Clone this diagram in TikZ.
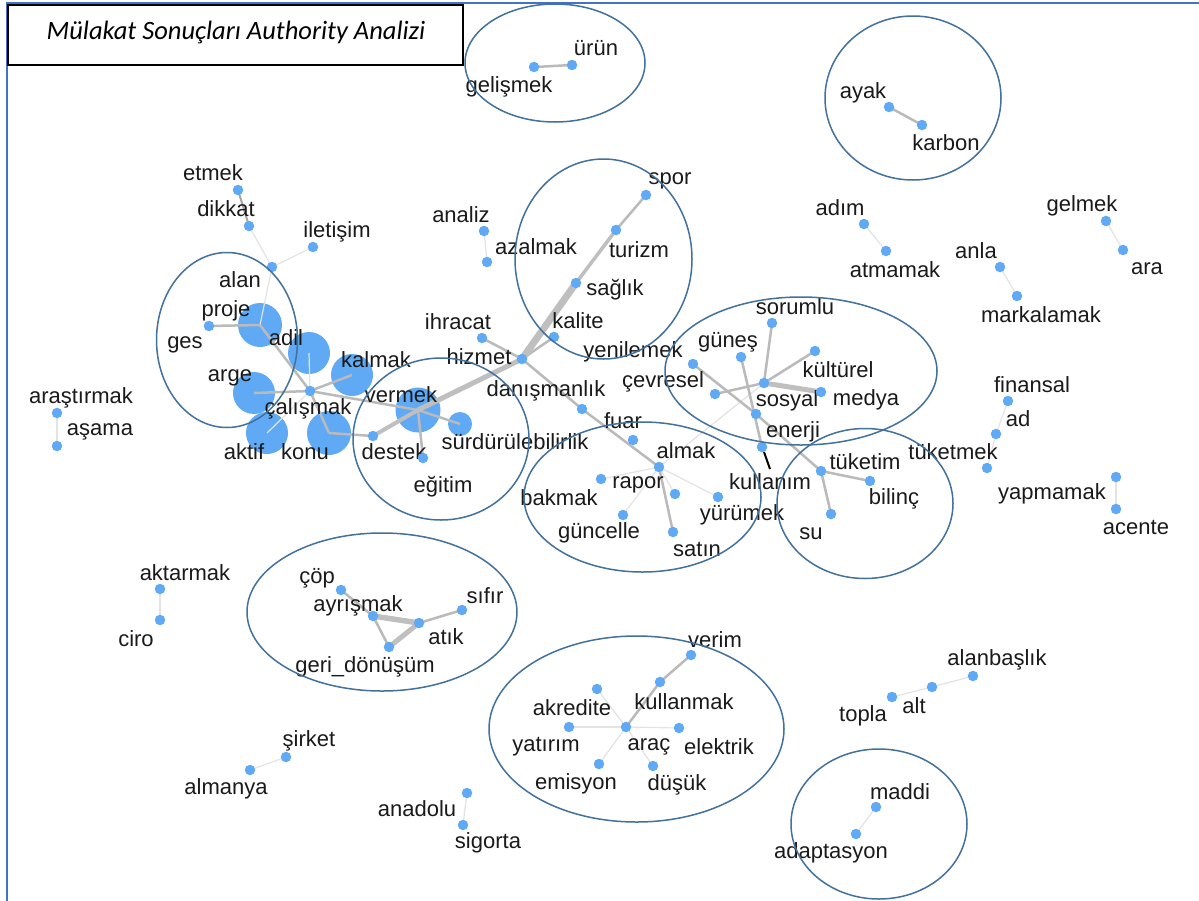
\documentclass[tikz,border=0pt]{standalone}
\usepackage{fontspec}
\setmainfont{Liberation Sans}
\newfontfamily\titlefont{Carlito}
\definecolor{dotblue}{RGB}{96,170,245}
\definecolor{ellcol}{RGB}{65,113,156}
\definecolor{framecol}{RGB}{68,114,196}
\definecolor{labcol}{RGB}{26,26,26}
\pgfdeclarelayer{bgl}
\pgfdeclarelayer{bigl}
\pgfdeclarelayer{edgel}
\pgfsetlayers{bgl,bigl,edgel,main}
\newcommand\kw[4]{\node[dot] (#1) at (#2) {}; \node[lab] (#1l) at (#3) {#4};}
\begin{document}
\begin{tikzpicture}[x=1pt,y=-1pt,
  dot/.style={circle,fill=dotblue,inner sep=0pt,minimum size=10.5pt},
  big/.style={circle,fill=dotblue,inner sep=0pt,minimum size=#1},
  lab/.style={inner sep=0pt,text=labcol,font=\fontsize{22}{26}\selectfont},
  ell/.style={draw=ellcol,line width=1.5pt},
  faint/.style={draw=black!11,line width=1.2pt},
  med/.style={draw=black!27,line width=2.5pt},
  heavy/.style={draw=black!25,line width=#1}]
\useasboundingbox (0,0) rectangle (1199,900);
\begin{pgfonlayer}{bgl}
\fill[white] (0,0) rectangle (1199,900);
\end{pgfonlayer}
\draw[draw=framecol,line width=2pt] (7,905) -- (7,3) -- (1205,3);

% big circles
\begin{pgfonlayer}{bigl}
\node[big=44pt] (proje) at (260,325) {};
\node[big=42pt] (adil) at (309,353) {};
\node[big=42pt] (kalmak) at (352,375) {};
\node[big=42pt] (arge) at (254,393) {};
\node[big=42pt] (aktif) at (267,433) {};
\node[big=44pt] (konu) at (329,433) {};
\node[big=45pt] (vermek) at (418,410) {};
\node[big=24pt] (surdur) at (460,424) {};
\end{pgfonlayer}
\node[lab] (projel) at (226,311) {proje};
\node[lab] (adill) at (286,338) {adil};
\node[lab] (kalmakl) at (376,360) {kalmak};
\node[lab] (argel) at (230,378) {arge};
\node[lab] (aktifl) at (244,452) {aktif};
\node[lab] (konul) at (305,452) {konu};
\node[lab] (vermekl) at (401,395) {vermek};
\node[lab] (surdurl) at (515,442) {sürdürülebilirlik};

% small nodes
\kw{gelismek}{534,67}{509,87}{gelişmek}
\kw{urun}{572,65}{596,48}{ürün}
\kw{ayak}{889,107}{863,93}{ayak}
\kw{karbon}{922,125}{946,143}{karbon}
\kw{etmek}{238,190}{213,173}{etmek}
\kw{dikkat}{249,226}{226,209}{dikkat}
\kw{iletisim}{313,247}{337,232}{iletişim}
\kw{alan}{272,267}{240,280}{alan}
\kw{ges}{209,326}{185,345}{ges}
\kw{calismak}{310,391}{308,409}{çalışmak}
\kw{destek}{373,436}{394,452}{destek}
\kw{egitim}{423,458}{443,487}{eğitim}
\kw{analiz}{484,231}{461,215}{analiz}
\kw{azalmak}{487,262}{536,247}{azalmak}
\kw{spor}{646,195}{670,181}{spor}
\kw{turizm}{616,230}{639,250}{turizm}
\kw{saglik}{576,283}{615,290}{sağlık}
\kw{kalite}{554,337}{578,321}{kalite}
\kw{ihracat}{482,338}{458,322}{ihracat}
\kw{hizmet}{522,359}{479,357}{hizmet}
\kw{danisman}{582,409}{546,391}{danışmanlık}
\kw{fuar}{633,440}{623,421}{fuar}
\kw{almak}{659,467}{686,451}{almak}
\kw{bakmak}{601,479}{559,498}{bakmak}
\kw{rapor}{675,494}{638,485}{rapor}
\kw{guncelle}{623,515}{599,533}{güncelle}
\kw{satin}{673,532}{697,549}{satın}
\kw{yurumek}{718,497}{742,515}{yürümek}
\kw{sorumlu}{772,323}{795,307}{sorumlu}
\kw{gunes}{741,357}{728,342}{güneş}
\kw{kulturel}{815,351}{838,370}{kültürel}
\kw{yenilemek}{693,364}{633,352}{yenilemek}
\kw{sosyal}{764,383}{787,401}{sosyal}
\kw{medya}{821,392}{866,400}{medya}
\kw{cevresel}{715,394}{663,382}{çevresel}
\kw{enerji}{756,414}{793,432}{enerji}
\kw{kullanim}{762,447}{770,482}{kullanım}
\kw{tuketim}{821,471}{865,462}{tüketim}
\kw{bilinc}{870,481}{894,499}{bilinç}
\kw{su}{831,514}{811,534}{su}
\kw{cop}{341,590}{317,578}{çöp}
\kw{ayrismak}{373,616}{358,606}{ayrışmak}
\kw{atik}{419,623}{446,637}{atık}
\kw{sifir}{462,610}{485,596}{sıfır}
\kw{geri}{389,647}{365,667}{geri\_dönüşüm}
\kw{verim}{691,655}{715,640}{verim}
\kw{kullanmak}{660,682}{684,702}{kullanmak}
\kw{akredite}{597,689}{572,708}{akredite}
\kw{arac}{626,727}{649,747}{araç}
\kw{yatirim}{569,727}{546,747}{yatırım}
\kw{elektrik}{679,728}{719,747}{elektrik}
\kw{emisyon}{599,764}{576,784}{emisyon}
\kw{dusuk}{653,766}{677,785}{düşük}
\kw{adim}{864,224}{840,208}{adım}
\kw{atmamak}{886,251}{895,270}{atmamak}
\kw{anla}{1000,267}{976,251}{anla}
\kw{markalamak}{1017,296}{1041,315}{markalamak}
\kw{gelmek}{1106,221}{1082,206}{gelmek}
\kw{ara}{1123,250}{1147,269}{ara}
\kw{finansal}{1008,401}{1032,385}{finansal}
\kw{ad}{996,434}{1018,419}{ad}
\kw{tuketmek}{987,468}{953,452}{tüketmek}
\kw{yapmamak}{1116,477}{1052,494}{yapmamak}
\kw{acente}{1116,509}{1136,527}{acente}
\kw{arastirmak}{57,413}{81,398}{araştırmak}
\kw{asama}{57,446}{100,432}{aşama}
\kw{aktarmak}{160,589}{185,573}{aktarmak}
\kw{ciro}{160,620}{136,639}{ciro}
\kw{sirket}{286,757}{309,741}{şirket}
\kw{almanya}{250,770}{226,789}{almanya}
\kw{anadolu}{467,793}{417,809}{anadolu}
\kw{sigorta}{463,825}{488,843}{sigorta}
\kw{alanbaslik}{973,676}{997,660}{alanbaşlık}
\kw{alt}{932,687}{914,706}{alt}
\kw{topla}{892,697}{863,716}{topla}
\kw{maddi}{876,807}{900,792}{maddi}
\kw{adaptasyon}{856,834}{831,853}{adaptasyon}

% edges
\begin{pgfonlayer}{edgel}
\foreach \a/\b in {dikkat/alan,iletisim/alan,alan/proje,adil/calismak,aktif/calismak,
  analiz/azalmak,adim/atmamak,anla/markalamak,gelmek/ara,finansal/ad,ad/tuketmek,
  yapmamak/acente,arastirmak/asama,aktarmak/ciro,sirket/almanya,anadolu/sigorta,
  alanbaslik/alt,alt/topla,maddi/adaptasyon,sosyal/almak,almak/bakmak,almak/guncelle,
  almak/rapor,almak/yurumek,akredite/arac,yatirim/arac,elektrik/arac,emisyon/arac,dusuk/arac}
  \draw[faint] (\a.center) -- (\b.center);
\foreach \a/\b in {gelismek/urun,ayak/karbon,proje/ges,proje/calismak,kalmak/calismak,
  arge/calismak,calismak/konu,konu/destek,calismak/vermek,vermek/surdur,vermek/egitim,
  ihracat/hizmet,hizmet/kalite,hizmet/danisman,danisman/almak,turizm/spor,almak/satin,
  sorumlu/sosyal,kulturel/sosyal,cevresel/sosyal,gunes/kullanim,yenilemek/enerji,
  enerji/tuketim,tuketim/bilinc,tuketim/su,cop/ayrismak,ayrismak/geri,atik/sifir,
  verim/kullanmak,kullanmak/arac}
  \draw[med] (\a.center) -- (\b.center);
\draw[draw=black!35,line width=2pt] (etmek.center) -- (dikkat.center);
\draw[heavy=5pt] (hizmet.center) -- (vermek.center);
\draw[heavy=4pt] (vermek.center) -- (destek.center);
\draw[heavy=7pt] (hizmet.center) -- (saglik.center);
\draw[heavy=3.5pt] (saglik.center) -- (turizm.center);
\draw[heavy=5pt] (sosyal.center) -- (medya.center);
\draw[heavy=5.5pt] (ayrismak.center) -- (atik.center);
\draw[heavy=5pt] (atik.center) -- (geri.center);
\end{pgfonlayer}

% black tick
\coordinate (tickA) at (764,452);
\coordinate (tickB) at (770,469);
\draw[black,line width=2pt] (tickA) -- (tickB);

% cluster ellipses
\draw[ell] (555,63) ellipse [x radius=90, y radius=59];
\draw[ell] (913,98) ellipse [x radius=88, y radius=82];
\draw[ell] (227,340) ellipse [x radius=70.5, y radius=87.5];
\draw[ell] (603.5,259) ellipse [x radius=88.5, y radius=100];
\draw[ell] (441,439) ellipse [x radius=88, y radius=81];
\draw[ell] (801,371) ellipse [x radius=136, y radius=74];
\draw[ell] (642.5,497) ellipse [x radius=118.5, y radius=75];
\draw[ell] (865,503.5) ellipse [x radius=88, y radius=75];
\draw[ell] (382,612) ellipse [x radius=135, y radius=79];
\draw[ell] (636.5,729) ellipse [x radius=147.5, y radius=93];
\draw[ell] (879,824) ellipse [x radius=88, y radius=75];

% title
\node[draw=black,line width=1.8pt,fill=white,anchor=north west,
  minimum width=455pt,minimum height=60pt,inner sep=0pt] (titlebox) at (7,4) {};
\node[inner sep=0pt,font=\titlefont\itshape\fontsize{26.5}{30}\selectfont,text=black]
  (titletext) at (236,32) {Mülakat Sonuçları Authority Analizi};
\end{tikzpicture}
\end{document}
